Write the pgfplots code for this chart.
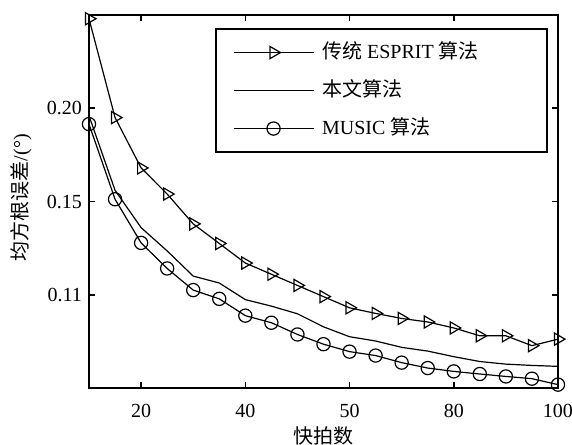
\documentclass[border=0pt]{standalone}
\usepackage{fontspec}
\setmainfont{Liberation Serif}
\newfontfamily\cjk{Noto Sans CJK SC}
\usepackage{pgfplots}
\pgfplotsset{compat=1.18}
\begin{document}
\begin{tikzpicture}
\begin{axis}[
  scale only axis, width=234.5pt, height=186.5pt,
  xmin=10, xmax=100, ymin=0.05, ymax=0.25,
  xtick={20,40,60,80,100}, xticklabels={20,40,50,80,100},
  ytick={0.10,0.15,0.20}, yticklabels={0.11,0.15,0.20},
  tick align=inside, major tick length=3pt,
  axis line style={line width=1pt},
  every tick/.style={black, line width=0.8pt},
  tick label style={font=\fontsize{10}{12}\selectfont},
  /pgf/number format/assume math mode=true,
  xticklabel style={yshift=-4.5pt},
  xlabel={\cjk 快拍数}, ylabel={{\cjk 均方根误差}/(°)},
  label style={font=\fontsize{10}{12}\selectfont},
  xlabel style={at={(axis description cs:0.5,0)}, anchor=center, yshift=-24pt},
  ylabel style={at={(axis description cs:-0.145,0.51)}, anchor=center},
  clip=false,
  legend image code/.code={\draw[mark repeat=2,mark phase=2,#1] plot coordinates {(0pt,0pt) (20pt,0pt) (40pt,0pt)};},
  legend cell align=left,
  legend style={at={(0.979,0.965)}, anchor=north east, draw=black, line width=1pt,
    font=\fontsize{10}{12}\selectfont,
    inner xsep=8.5pt, inner ysep=7pt, row sep=9.5pt, column sep=4pt,
    nodes={inner sep=0pt, text height=7.5pt, text depth=2pt}},
]
\addplot[black, line width=0.6pt, mark=triangle, mark size=3.5pt, mark options={solid, rotate=-90}] coordinates {
(10,0.248) (15,0.195) (20,0.168) (25,0.154) (30,0.138) (35,0.1275) (40,0.117) (45,0.111) (50,0.105) (55,0.099) (60,0.093) (65,0.090) (70,0.0873) (75,0.0854) (80,0.0822) (85,0.078) (90,0.078) (95,0.0727) (100,0.0762)};
\addlegendentry{\makebox[104pt][l]{{\cjk 传统} ESPRIT {\cjk 算法}}}
\addplot[black, line width=0.6pt] coordinates {
(10,0.196) (15,0.156) (20,0.136) (25,0.1235) (30,0.110) (35,0.1063) (40,0.0974) (45,0.0939) (50,0.0898) (55,0.0828) (60,0.0775) (65,0.0752) (70,0.0718) (75,0.0698) (80,0.0668) (85,0.0642) (90,0.0628) (95,0.0621) (100,0.0616)};
\addlegendentry{\cjk 本文算法}
\addplot[black, line width=0.6pt, mark=o, mark size=3.3pt, mark options={solid, fill=white}] coordinates {
(10,0.1915) (15,0.1512) (20,0.1278) (25,0.1141) (30,0.1025) (35,0.0978) (40,0.0888) (45,0.085) (50,0.0787) (55,0.0735) (60,0.0695) (65,0.0674) (70,0.0636) (75,0.0607) (80,0.0589) (85,0.0575) (90,0.0562) (95,0.055) (100,0.0518)};
\addlegendentry{MUSIC {\cjk 算法}}
\coordinate (LL) at (rel axis cs:0,0);
\end{axis}
\pgfresetboundingbox
\path (LL) ++(-44.5pt,-28pt) rectangle ++(286pt,222pt);
\end{tikzpicture}
\end{document}
